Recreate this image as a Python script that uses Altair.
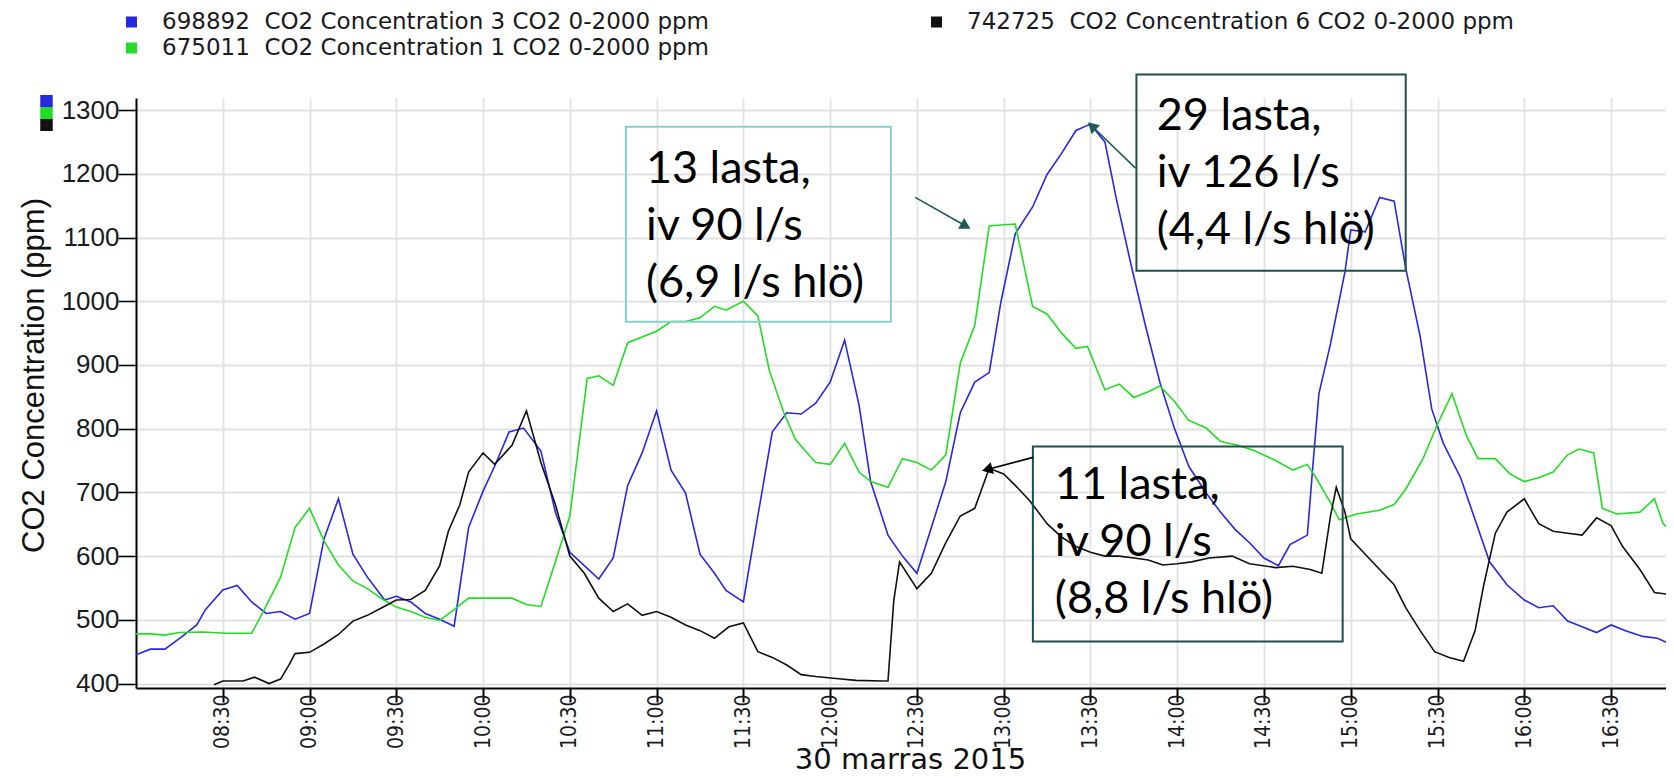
import altair as alt
import pandas as pd

DAY = "2015-11-30"

NAME_3 = "698892\u00a0 CO2 Concentration 3 CO2 0-2000 ppm"
NAME_6 = "742725\u00a0 CO2 Concentration 6 CO2 0-2000 ppm"
NAME_1 = "675011\u00a0 CO2 Concentration 1 CO2 0-2000 ppm"
SWATCH_ID = {NAME_3: "s3", NAME_1: "s1", NAME_6: "s6"}

# ---- series: CO2 Concentration 3 (blue)
blue_times = ["08:00", "08:05", "08:10", "08:16", "08:21", "08:24", "08:30", "08:35", "08:40", "08:45",
              "08:50", "08:55", "09:00", "09:05", "09:10", "09:15", "09:20", "09:26", "09:30", "09:35",
              "09:40", "09:45", "09:50", "09:55", "10:00", "10:04", "10:09", "10:14", "10:20", "10:25",
              "10:30", "10:35", "10:40", "10:45", "10:50", "10:55", "11:00", "11:05", "11:10", "11:15",
              "11:20", "11:24", "11:30", "11:35", "11:40", "11:45", "11:50", "11:55", "12:00", "12:05",
              "12:10", "12:14", "12:20", "12:25", "12:30", "12:35", "12:40", "12:45", "12:50", "12:55",
              "12:59", "13:04", "13:10", "13:15", "13:20", "13:25", "13:30", "13:35", "13:39", "13:44",
              "13:49", "13:54", "13:59", "14:04", "14:10", "14:15", "14:20", "14:25", "14:30", "14:35",
              "14:39", "14:45", "14:47", "14:49", "14:53", "14:58", "15:00", "15:05", "15:10", "15:15",
              "15:19", "15:24", "15:28", "15:32", "15:38", "15:43", "15:48", "15:54", "16:00", "16:05",
              "16:10", "16:15", "16:20", "16:25", "16:30", "16:35", "16:41", "16:46", "16:52"]
blue_ppm = [445, 454, 454, 474, 492, 516, 547, 554, 528, 510,
            513, 501, 510, 627, 690, 603, 567, 531, 537, 528,
            510, 501, 490, 645, 702, 741, 795, 801, 765, 669,
            606, 585, 564, 597, 711, 762, 828, 735, 699, 603,
            573, 546, 528, 663, 795, 825, 823, 840, 873, 939,
            837, 717, 633, 600, 573, 645, 717, 825, 873, 888,
            998, 1106, 1148, 1199, 1232, 1268, 1278, 1250, 1160, 1058,
            962, 873, 801, 741, 699, 669, 642, 621, 597, 585,
            618, 633, 747, 855, 933, 1046, 1112, 1109, 1163, 1157,
            1052, 945, 831, 777, 723, 657, 591, 555, 531, 519,
            522, 498, 489, 480, 492, 483, 474, 471, 459]

# ---- series: CO2 Concentration 1 (green)
green_times = ["08:00", "08:05", "08:10", "08:15", "08:23", "08:31", "08:40", "08:44", "08:50", "08:55",
               "09:00", "09:05", "09:10", "09:15", "09:20", "09:25", "09:30", "09:35", "09:40", "09:45",
               "09:50", "09:55", "10:00", "10:10", "10:15", "10:20", "10:25", "10:30", "10:36", "10:40",
               "10:45", "10:50", "10:55", "11:00", "11:05", "11:10", "11:15", "11:20", "11:24", "11:30",
               "11:35", "11:39", "11:44", "11:48", "11:55", "12:00", "12:05", "12:10", "12:14", "12:20",
               "12:25", "12:30", "12:35", "12:40", "12:45", "12:50", "12:55", "13:00", "13:04", "13:10",
               "13:15", "13:20", "13:25", "13:29", "13:35", "13:40", "13:45", "13:50", "13:54", "13:59",
               "14:04", "14:10", "14:15", "14:21", "14:27", "14:34", "14:40", "14:45", "14:48", "14:53",
               "14:56", "15:02", "15:10", "15:15", "15:19", "15:25", "15:30", "15:35", "15:40", "15:44",
               "15:50", "15:55", "16:00", "16:05", "16:10", "16:15", "16:19", "16:24", "16:27", "16:32",
               "16:40", "16:45", "16:48", "16:52"]
green_ppm = [478, 478, 476, 480, 481, 479, 479, 513, 567, 645,
             675, 624, 586, 561, 549, 533, 520, 513, 504, 499,
             516, 534, 534, 534, 524, 521, 591, 663, 879, 883,
             868, 935, 944, 953, 968, 968, 974, 992, 986, 1000,
             977, 891, 825, 783, 747, 744, 777, 732, 717, 708,
             753, 747, 735, 759, 903, 962, 1118, 1120, 1121, 992,
             980, 950, 926, 929, 861, 870, 849, 858, 867, 843,
             813, 801, 780, 774, 765, 750, 735, 744, 723, 684,
             657, 666, 672, 681, 705, 753, 807, 855, 789, 753,
             753, 729, 717, 723, 732, 759, 768, 762, 675, 666,
             669, 690, 651, 633]

# ---- series: CO2 Concentration 6 (black)
black_times = ["08:27", "08:30", "08:37", "08:41", "08:46", "08:50", "08:53", "08:55", "09:00", "09:05",
               "09:10", "09:15", "09:20", "09:25", "09:30", "09:35", "09:40", "09:45", "09:48", "09:52",
               "09:55", "10:00", "10:04", "10:10", "10:15", "10:20", "10:25", "10:30", "10:35", "10:40",
               "10:45", "10:50", "10:55", "11:00", "11:05", "11:10", "11:15", "11:20", "11:25", "11:30",
               "11:35", "11:40", "11:45", "11:50", "11:55", "12:02", "12:09", "12:18", "12:20", "12:22",
               "12:24", "12:30", "12:35", "12:40", "12:45", "12:50", "12:55", "13:00", "13:04", "13:09",
               "13:15", "13:20", "13:25", "13:30", "13:35", "13:40", "13:45", "13:50", "13:55", "14:00",
               "14:05", "14:11", "14:19", "14:25", "14:34", "14:40", "14:46", "14:50", "14:53", "14:55",
               "14:58", "15:00", "15:05", "15:10", "15:15", "15:19", "15:24", "15:29", "15:34", "15:39",
               "15:43", "15:46", "15:50", "15:54", "16:00", "16:05", "16:10", "16:15", "16:20", "16:25",
               "16:30", "16:34", "16:40", "16:45", "16:50", "16:52"]
black_ppm = [398, 404, 404, 410, 400, 407, 430, 447, 449, 462,
             477, 498, 507, 519, 531, 532, 546, 585, 639, 681,
             732, 762, 744, 774, 828, 747, 681, 600, 573, 534,
             513, 525, 507, 513, 504, 492, 483, 471, 489, 495,
             450, 441, 429, 414, 411, 408, 405, 404, 404, 530,
             591, 549, 573, 621, 663, 675, 738, 729, 711, 687,
             651, 630, 615, 606, 600, 600, 597, 594, 586, 588,
             591, 597, 600, 588, 582, 584, 579, 573, 663, 708,
             669, 627, 603, 579, 555, 519, 483, 450, 441, 435,
             483, 555, 636, 669, 690, 651, 639, 636, 633, 660,
             648, 615, 579, 543, 540, 555]

x_tick_labels = ["08:30", "09:00", "09:30", "10:00", "10:30", "11:00", "11:30", "12:00", "12:30",
                 "13:00", "13:30", "14:00", "14:30", "15:00", "15:30", "16:00", "16:30"]
y_tick_values = [400, 450, 500, 550, 600, 650, 700, 750, 800, 850, 900, 950,
                 1000, 1050, 1100, 1150, 1200, 1250, 1300]

# ---- annotations (positions in data units: time, ppm)
box_ids = ["A", "B", "C"]
box_text = ["13 lasta,\niv 90 l/s\n(6,9 l/s hlö)",
            "29 lasta,\niv 126 l/s\n(4,4 l/s hlö)",
            "11 lasta,\niv 90 l/s\n(8,8 l/s hlö)"]
box_start = ["10:49:24", "13:45:54", "13:10:06"]
box_end = ["12:21:00", "15:19:00", "14:57:12"]
box_low = [968, 1048, 466]
box_high = [1274, 1356, 772]
text_time = ["10:56:18", "13:52:54", "13:17:42"]
text_ppm = [1186, 1269, 689]
arrow_from_time = ["12:29:24", "13:45:36", "13:10:12"]
arrow_from_ppm = [1163, 1209, 755]
arrow_to_time = ["12:46:54", "13:30:30", "12:54:18"]
arrow_to_ppm = [1118, 1275, 736]
arrow_angle = [119.6, 313.7, 254.6]


def ts(t):
    return pd.Timestamp(f"{DAY} {t}")


def dt(t):
    parts = [int(p) for p in t.split(":")]
    while len(parts) < 3:
        parts.append(0)
    return alt.DateTime(year=2015, month=11, date=30, hours=parts[0], minutes=parts[1], seconds=parts[2])


def frame(name, times, values):
    return pd.DataFrame({"series": name, "time": [ts(t) for t in times], "ppm": values})


series_df = pd.concat([frame(NAME_3, blue_times, blue_ppm),
                       frame(NAME_1, green_times, green_ppm),
                       frame(NAME_6, black_times, black_ppm)], ignore_index=True)
swatch_df = series_df.assign(swatch=series_df["series"].map(SWATCH_ID))

ann_df = pd.DataFrame({
    "id": box_ids,
    "label": box_text,
    "t1": [ts(t) for t in box_start],
    "t2": [ts(t) for t in box_end],
    "p1": box_low,
    "p2": box_high,
    "tt": [ts(t) for t in text_time],
    "tp": text_ppm,
    "at1": [ts(t) for t in arrow_from_time],
    "ap1": arrow_from_ppm,
    "at2": [ts(t) for t in arrow_to_time],
    "ap2": arrow_to_ppm,
    "angle": arrow_angle,
})

BLUE, GREEN, BLACK = "#2828e0", "#24dc24", "#111111"
COLOR_OF = {NAME_3: BLUE, NAME_1: GREEN, NAME_6: BLACK}
BOX_STROKE = {"A": "#86d1c9", "B": "#1f4f49", "C": "#1f4f49"}
ARROW_COLOR = {"A": "#1f5a54", "B": "#1f5a54", "C": "#000000"}

X_TITLE = "30 marras 2015"
Y_TITLE = "CO2 Concentration (ppm)"

x_scale = alt.Scale(domain=[dt("08:00"), dt("16:49")], nice=False)
y_scale = alt.Scale(domain=[393, 1319], nice=False, zero=False)

x_axis = alt.Axis(
    values=[dt(t) for t in x_tick_labels], format="%H:%M", labelAngle=-90,
    labelAlign="right", labelBaseline="middle",
    labelFont="'Liberation Sans Narrow', 'DejaVu Sans Condensed', 'Liberation Sans'",
    labelFontSize=21, labelColor="#1a1a22", labelPadding=-8,
    tickSize=14, tickWidth=2, tickColor="#000000",
    domainColor="#000000", domainWidth=2,
    gridColor="#e2e2e2", gridWidth=1.8,
    titleFont="DejaVu Sans", titleFontSize=29, titleFontWeight="normal", titleColor="#111111",
    titleX=774, titleY=80, titleAlign="center", titleBaseline="alphabetic",
)
y_axis = alt.Axis(
    values=y_tick_values, format="d",
    labelExpr="datum.value % 100 === 0 ? datum.label : ''",
    labelFont="Liberation Sans", labelFontSize=26, labelColor="#1a1a22", labelPadding=-1,
    tickSize={"condition": {"test": "datum.value % 100 === 0", "value": 18}, "value": 8},
    tickWidth=1.6, tickColor="#000000",
    domainColor="#000000", domainWidth=2,
    gridColor="#e2e2e2", gridWidth=1.8,
    gridOpacity={"condition": {"test": "datum.value % 100 === 0", "value": 1}, "value": 0},
    titleFont="Liberation Sans", titleFontSize=31, titleFontWeight="normal", titleColor="#111111",
    titleX=-102, titleY=277, titleAngle=270, titleAlign="center", titleBaseline="middle",
)

legend_order = [NAME_3, NAME_1, NAME_6]
side_order = [NAME_3, NAME_1, NAME_6]

lines = alt.Chart(series_df).mark_line(strokeWidth=1.6, clip=True).encode(
    x=alt.X("time:T", title=X_TITLE, scale=x_scale, axis=x_axis),
    y=alt.Y("ppm:Q", title=Y_TITLE, scale=y_scale, axis=y_axis),
    color=alt.Color(
        "series:N",
        scale=alt.Scale(domain=legend_order, range=[COLOR_OF[n] for n in legend_order]),
        legend=alt.Legend(
            title=None, orient="none", legendX=-16, legendY=-89, columns=2, columnPadding=216,
            clipHeight=26, rowPadding=-2.5, padding=0, symbolType="square", symbolSize=25,
            symbolStrokeWidth=6, symbolOpacity=1, labelFont="DejaVu Sans", labelFontSize=23,
            labelColor="#1a1a22", labelOffset=19, labelLimit=0,
        ),
    ),
)

swatches = alt.Chart(swatch_df).mark_point(opacity=0, shape="square", filled=False, clip=True).encode(
    x=alt.X("time:T", title=X_TITLE, scale=x_scale),
    y=alt.Y("ppm:Q", title=Y_TITLE, scale=y_scale),
    stroke=alt.Stroke(
        "swatch:N",
        scale=alt.Scale(domain=[SWATCH_ID[n] for n in side_order],
                        range=[COLOR_OF[n] for n in side_order]),
        legend=alt.Legend(
            title=None, orient="none", legendX=-96, legendY=-3, clipHeight=12, rowPadding=0,
            padding=0, symbolType="square", symbolSize=42, symbolStrokeWidth=6, symbolOpacity=1,
            labelExpr="''", labelFontSize=1, labelOffset=0,
        ),
    ),
)

ann = alt.Chart(ann_df)
layers = [lines, swatches]
for bid in box_ids:
    layers.append(
        ann.transform_filter(alt.datum.id == bid)
        .mark_rect(filled=False, stroke=BOX_STROKE[bid], strokeWidth=2)
        .encode(x=alt.X("t1:T", title=X_TITLE, scale=x_scale), x2="t2:T",
                y=alt.Y("p1:Q", title=Y_TITLE, scale=y_scale), y2="p2:Q")
    )
layers.append(
    ann.mark_text(align="left", baseline="alphabetic", font="Lato", fontSize=45,
                  lineBreak="\n", lineHeight=57, color="#000000")
    .encode(x=alt.X("tt:T", title=X_TITLE, scale=x_scale),
            y=alt.Y("tp:Q", title=Y_TITLE, scale=y_scale), text="label:N")
)
for bid in box_ids:
    sub = ann.transform_filter(alt.datum.id == bid)
    layers.append(
        sub.mark_rule(strokeWidth=1.6, color=ARROW_COLOR[bid])
        .encode(x=alt.X("at1:T", title=X_TITLE, scale=x_scale), x2="at2:T",
                y=alt.Y("ap1:Q", title=Y_TITLE, scale=y_scale), y2="ap2:Q")
    )
    layers.append(
        sub.mark_point(shape="triangle-up", filled=True, size=150, opacity=1, color=ARROW_COLOR[bid])
        .encode(x=alt.X("at2:T", title=X_TITLE, scale=x_scale),
                y=alt.Y("ap2:Q", title=Y_TITLE, scale=y_scale),
                angle=alt.Angle("angle:Q", scale=None))
    )

chart = alt.layer(*layers).properties(
    width=1530, height=590,
    autosize=alt.AutoSizeParams(type="none"),
    padding={"left": 128, "top": 90, "right": 0, "bottom": 87},
).configure(font="DejaVu Sans").configure_view(stroke=None)

chart.save("out.html", embed_options={"renderer": "svg", "actions": False})
